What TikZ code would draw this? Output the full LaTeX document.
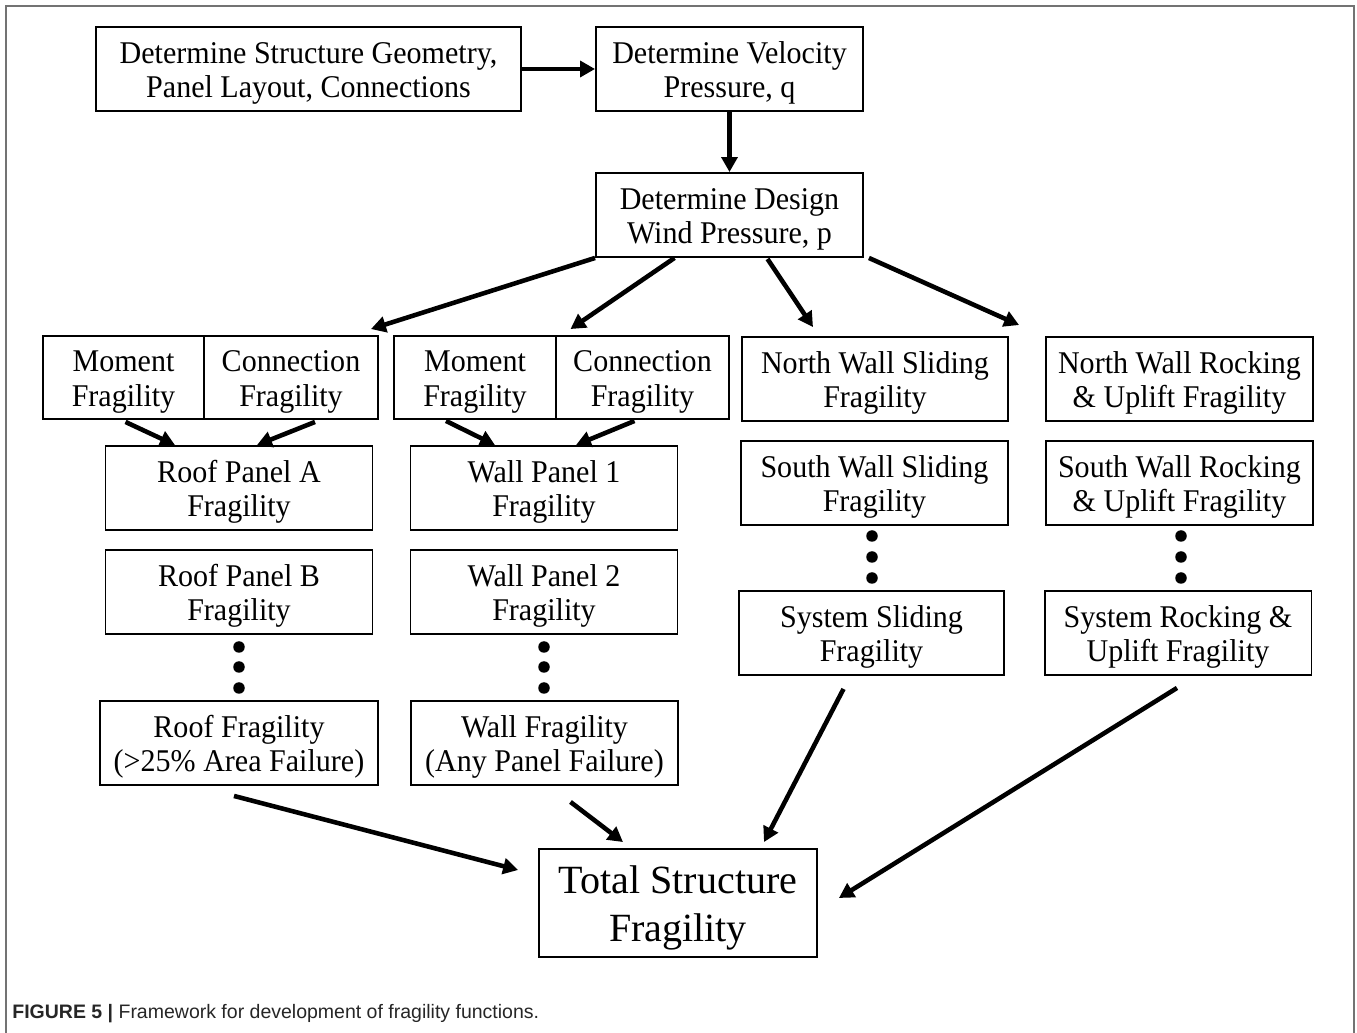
\documentclass[tikz,border=0pt]{standalone}
\usepackage{fontspec}
\setmainfont[FakeStretch=0.95]{Liberation Serif}
\newfontfamily\totfont{Liberation Serif}
\newfontfamily\capfont{Liberation Sans}
\usetikzlibrary{arrows.meta,calc}
% first-line struts so the text sits as low in its box as in the original
\newcommand{\topstrut}{\rule{0pt}{16.9pt}}
\newcommand{\totstrut}{\rule{0pt}{21.4pt}}

\begin{document}
\begin{tikzpicture}[
    x=0.02cm, y=-0.02cm,
    every node/.style={font=\fontsize{18}{19.8}\selectfont},
    blk/.style={draw,line width=1.1pt,align=center,inner sep=0pt,
                minimum width=5.34cm,minimum height=1.68cm},
    cell/.style={blk,minimum height=1.66cm},
    dot/.style={circle,fill,inner sep=0pt,minimum size=0.23cm},
    line/.style={-{Triangle[length=8.5pt,width=9pt]},line width=2.6pt},
    frame/.style={draw=black!55,line width=1.2pt}
]
\useasboundingbox (0,0) rectangle (1357,1033);

% Outer frame (open at the bottom)
\draw[frame] (6,1033) -- (6,6) -- (1354,6) -- (1354,1033);

% Top row
\node[blk,minimum width=8.5cm] (GEO) at (308.5,69)
    {\topstrut Determine Structure Geometry,\\Panel Layout, Connections};
\node[blk] (VEL) at (729.5,69) {\topstrut Determine Velocity\\Pressure, q};
\node[blk] (DWP) at (729.5,215) {\topstrut Determine Design\\Wind Pressure, p};

\draw[line] (GEO.east) -- (VEL.west);
\draw[line] (VEL.south) -- (DWP.north);

% Roof and wall component fragilities
\node[cell,minimum width=3.22cm] (RMOM) at (123.5,377.5) {\topstrut Moment\\Fragility};
\node[cell,minimum width=3.48cm] (RCON) at (291,377.5) {\topstrut Connection\\Fragility};
\node[cell,minimum width=3.24cm] (WMOM) at (475,377.5) {\topstrut Moment\\Fragility};
\node[cell,minimum width=3.46cm] (WCON) at (642.5,377.5) {\topstrut Connection\\Fragility};

% Panels
\node[blk] (ROFA) at (239,488) {\topstrut Roof Panel A\\Fragility};
\node[blk] (ROFB) at (239,592) {\topstrut Roof Panel B\\Fragility};
\node[blk,minimum width=5.56cm] (ROOF) at (239,743)
    {\topstrut Roof Fragility\\(>25\% Area Failure)};
\node[blk] (WALA) at (544,488) {\topstrut Wall Panel 1\\Fragility};
\node[blk] (WALB) at (544,592) {\topstrut Wall Panel 2\\Fragility};
\node[blk] (WALL) at (544.5,743) {\topstrut Wall Fragility\\(Any Panel Failure)};

% Sliding and rocking columns
\node[blk,minimum width=5.32cm] (NSLD) at (875,379) {\topstrut North Wall Sliding\\Fragility};
\node[blk] (SSLD) at (874.5,483) {\topstrut South Wall Sliding\\Fragility};
\node[blk,minimum width=5.3cm] (SYSS) at (871.5,633) {\topstrut System Sliding\\Fragility};
\node[blk] (NRCK) at (1179.5,379) {\topstrut North Wall Rocking\\\& Uplift Fragility};
\node[blk] (SRCK) at (1179.5,483) {\topstrut South Wall Rocking\\\& Uplift Fragility};
\node[blk] (SYSR) at (1178,633) {\topstrut System Rocking \&\\Uplift Fragility};

% Ellipsis dots
\foreach \cx/\cy/\nm in {239/647/a1,239/667/a2,239/688/a3,
                         544/647/b1,544/667/b2,544/688/b3,
                         872/536/c1,872/557/c2,872/578/c3,
                         1181/536/d1,1181/557/d2,1181/578/d3}
    \node[dot] (dot-\nm) at (\cx,\cy) {};

% Result
\node[blk,minimum width=5.56cm,minimum height=2.16cm,
      font=\totfont\fontsize{22.8}{27.8}\selectfont] (TOT) at (678,903)
    {\totstrut Total Structure\\Fragility};

% Design pressure to the four branches
\draw[line] (DWP.south west) -- ($(RCON.north east)+(-8,-6)$);
\draw[line] ($(DWP.south)+(-55,0)$) -- ($(WCON.north)+(-72,-6)$);
\draw[line] ($(DWP.south)+(38,1)$) -- ($(NSLD.north)+(-62,-9)$);
\draw[line] ($(DWP.south east)+(5,0)$) -- ($(NRCK.north west)+(-26,-11)$);

% Components into first panels
\draw[line] ($(RMOM.south)+(2,2)$) -- ($(ROFA.north)+(-64,0)$);
\draw[line] ($(RCON.south)+(24,2)$) -- ($(ROFA.north)+(18,0)$);
\draw[line] ($(WMOM.south)+(-29,1)$) -- ($(WALA.north)+(-49,0)$);
\draw[line] ($(WCON.south)+(-8,1)$) -- ($(WALA.north)+(32,0)$);

% Everything into total
\draw[line] ($(ROOF.south)+(-5,10)$) -- ($(TOT.west)+(-20,-33)$);
\draw[line] ($(WALL.south)+(26,16)$) -- ($(TOT.north)+(-55,-6)$);
\draw[line] ($(SYSS.south)+(-28,13)$) -- ($(TOT.north)+(86,-6)$);
\draw[line] ($(SYSR.south)+(-1,12)$) -- ($(TOT.east)+(21,-5)$);

% Caption
\node[anchor=base west,inner sep=0pt,text=black!85,
      font=\capfont\fontsize{11.1}{13}\selectfont] (CAP) at (12,1018)
    {\textbf{FIGURE 5 |} Framework for development of fragility functions.};
\end{tikzpicture}
\end{document}
